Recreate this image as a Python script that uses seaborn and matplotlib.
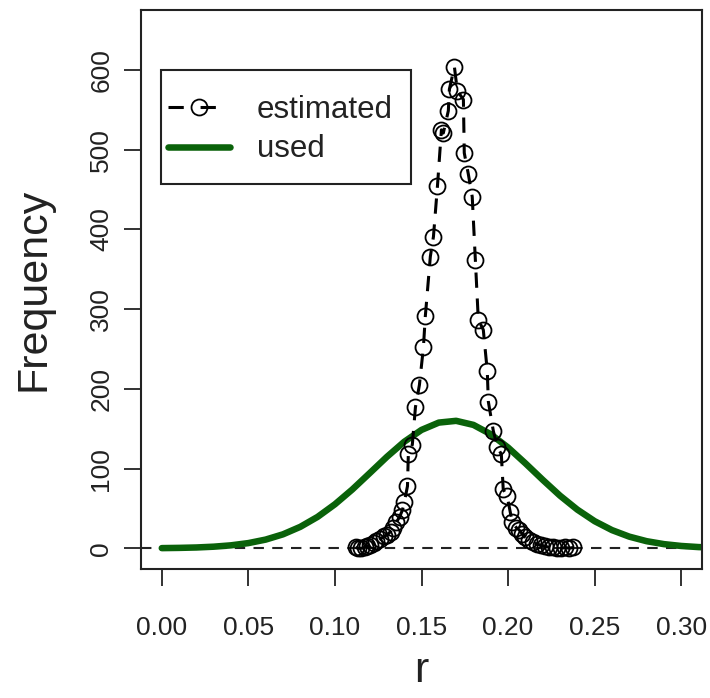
import matplotlib
matplotlib.use("Agg")
import matplotlib.pyplot as plt
from matplotlib.patches import Rectangle
import seaborn as sns
import numpy as np

# ---- data ----
est_r = [0.1119, 0.1136, 0.1153, 0.1171, 0.1188, 0.1205, 0.1223, 0.1240, 0.1263, 0.1286,
         0.1303, 0.1321, 0.1338, 0.1355, 0.1373, 0.1390, 0.1401, 0.1419, 0.1424, 0.1447,
         0.1465, 0.1488, 0.1511, 0.1522, 0.1551, 0.1569, 0.1592, 0.1615, 0.1626, 0.1655,
         0.1661, 0.1690, 0.1707, 0.1742, 0.1747, 0.1770, 0.1793, 0.1811, 0.1828, 0.1857,
         0.1880, 0.1886, 0.1915, 0.1938, 0.1961, 0.1972, 0.1995, 0.2013, 0.2024, 0.2047,
         0.2064, 0.2082, 0.2099, 0.2122, 0.2145, 0.2168, 0.2191, 0.2214, 0.2237, 0.2260,
         0.2284, 0.2307, 0.2330, 0.2353, 0.2376]
est_freq = [1, 0, 0, 1, 2.5, 4, 6, 9, 12, 15,
            17, 21, 26, 33, 39, 48, 58, 78, 118, 130,
            177, 205, 252, 291, 366, 391, 454, 525, 521, 549,
            576, 604, 574, 563, 496, 470, 441, 362, 287, 274,
            222, 184, 147, 127, 118, 74, 65, 45, 33, 26,
            23, 18, 14, 10, 7.5, 5, 4, 2.5, 1.3, 1.3,
            0, 0, 1, 0, 1]

used_r = [0.00, 0.01, 0.02, 0.03, 0.04, 0.05, 0.06, 0.07, 0.08, 0.09,
          0.10, 0.11, 0.12, 0.13, 0.14, 0.15, 0.16, 0.17, 0.18, 0.19,
          0.20, 0.21, 0.22, 0.23, 0.24, 0.25, 0.26, 0.27, 0.28, 0.29,
          0.30, 0.31, 0.32]
used_freq = [0.2, 0.5, 1.0, 2.0, 3.7, 6.5, 10.9, 17.5, 26.9, 39.4,
             55.2, 73.7, 94.1, 114.7, 133.6, 148.5, 157.7, 159.9, 154.8, 143.1,
             126.4, 106.6, 85.9, 66.0, 48.5, 34.0, 22.8, 14.6, 8.9, 5.2,
             2.9, 1.5, 0.8]

x_ticks = [0.00, 0.05, 0.10, 0.15, 0.20, 0.25, 0.30]
x_tick_labels = ["0.00", "0.05", "0.10", "0.15", "0.20", "0.25", "0.30"]
y_ticks = [0, 100, 200, 300, 400, 500, 600]
y_tick_labels = ["0", "100", "200", "300", "400", "500", "600"]

# ---- style ----
sns.set_style("white")
plt.rcParams["font.family"] = ["Liberation Sans", "DejaVu Sans"]

INK = "#222222"
fig = plt.figure(figsize=(7.10, 6.98), dpi=100)
ax = fig.add_axes([141 / 710, 1 - 569 / 698, (702 - 141) / 710, (569 - 9.5) / 698])

ax.axhline(0, color=INK, lw=1.5, dashes=(5, 4), zorder=1)

sns.lineplot(x=est_r, y=est_freq, ax=ax, estimator=None, sort=True,
             color="black", lw=2.2, dashes=False, label="estimated",
             marker="o", markersize=11.5, markerfacecolor="none",
             markeredgecolor="black", markeredgewidth=1.3, zorder=3)
ax.lines[-1].set_dashes((5, 3.5))

sns.lineplot(x=used_r, y=used_freq, ax=ax, estimator=None, sort=True,
             color="#0a620a", lw=4.7, label="used", zorder=2)

ax.set_xlim(-0.012, 0.312)
ax.set_ylim(-26, 676)

ax.set_xticks(x_ticks)
ax.set_xticklabels(x_tick_labels)
ax.set_yticks(y_ticks)
ax.set_yticklabels(y_tick_labels, rotation=90, va="center")

ax.tick_params(axis="both", which="major", direction="out", length=12, width=1.3,
               color=INK, labelsize=19, labelcolor=INK, left=True, bottom=True)
ax.tick_params(axis="x", pad=22)
ax.tick_params(axis="y", pad=8)

for sp in ax.spines.values():
    sp.set_visible(True)
    sp.set_color(INK)
    sp.set_linewidth(1.5)

ax.set_xlabel("r", fontsize=31, color=INK, labelpad=8)
ax.set_ylabel("Frequency", fontsize=31, color=INK, labelpad=26)

# legend frame drawn as a rectangle, legend content placed without frame
ax.add_patch(Rectangle((0.0357, 0.6881), 0.4813 - 0.0357, 0.8919 - 0.6881,
                       transform=ax.transAxes, facecolor="white", edgecolor=INK,
                       lw=1.5, zorder=4))
leg = ax.legend(loc="upper left", bbox_to_anchor=(0.0481, 0.847), fontsize=22.5,
                frameon=False, handlelength=2.0, handletextpad=0.85,
                labelspacing=0.3, borderpad=0, borderaxespad=0)
leg.set_zorder(5)
for t in leg.get_texts():
    t.set_color(INK)
h0 = leg.legend_handles[0]
h0.set_dashes((5, 5.5))

fig.savefig("out.png", dpi=100)
